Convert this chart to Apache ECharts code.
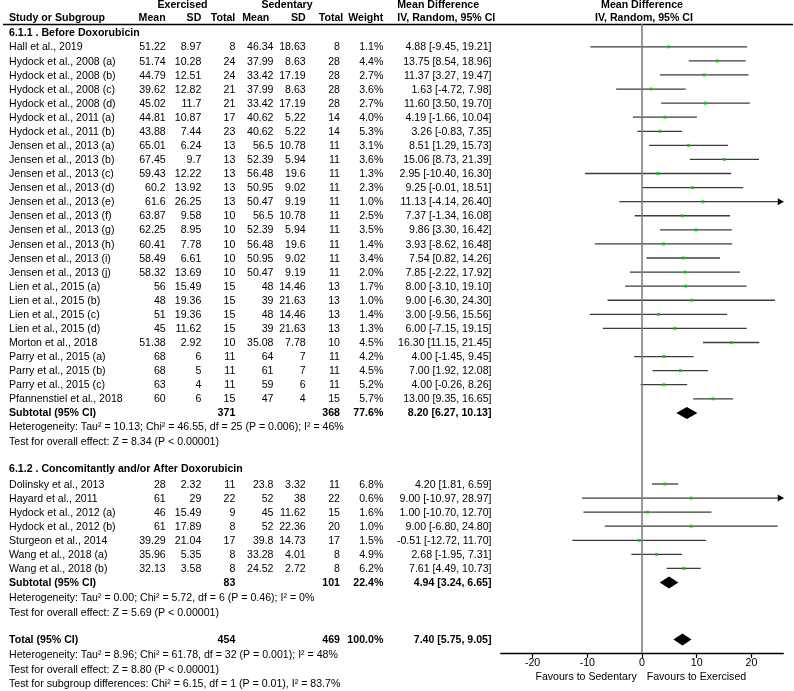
<!DOCTYPE html>
<html><head><meta charset="utf-8">
<script src="https://cdn.jsdelivr.net/npm/echarts@6/dist/echarts.min.js"></script>
<style>html,body{margin:0;padding:0;background:#fff}#c{width:794px;height:691px}</style>
</head><body><div id="c"></div>
<script>
// ---------- DATA ----------
const group1Title = '6.1.1 . Before Doxorubicin';
const studies1 = ['Hall et al., 2019','Hydock et al., 2008 (a)','Hydock et al., 2008 (b)','Hydock et al., 2008 (c)','Hydock et al., 2008 (d)','Hydock et al., 2011 (a)','Hydock et al., 2011 (b)','Jensen et al., 2013 (a)','Jensen et al., 2013 (b)','Jensen et al., 2013 (c)','Jensen et al., 2013 (d)','Jensen et al., 2013 (e)','Jensen et al., 2013 (f)','Jensen et al., 2013 (g)','Jensen et al., 2013 (h)','Jensen et al., 2013 (i)','Jensen et al., 2013 (j)','Lien et al., 2015 (a)','Lien et al., 2015 (b)','Lien et al., 2015 (c)','Lien et al., 2015 (d)','Morton et al., 2018','Parry et al., 2015 (a)','Parry et al., 2015 (b)','Parry et al., 2015 (c)','Pfannenstiel et al., 2018'];
const exMean1 = [51.22,51.74,44.79,39.62,45.02,44.81,43.88,65.01,67.45,59.43,60.2,61.6,63.87,62.25,60.41,58.49,58.32,56,48,51,45,51.38,68,68,63,60];
const exSD1   = [8.97,10.28,12.51,12.82,11.7,10.87,7.44,6.24,9.7,12.22,13.92,26.25,9.58,8.95,7.78,6.61,13.69,15.49,19.36,19.36,11.62,2.92,6,5,4,6];
const exN1    = [8,24,24,21,21,17,23,13,13,13,13,13,10,10,10,10,10,15,15,15,15,10,11,11,11,15];
const sedMean1= [46.34,37.99,33.42,37.99,33.42,40.62,40.62,56.5,52.39,56.48,50.95,50.47,56.5,52.39,56.48,50.95,50.47,48,39,48,39,35.08,64,61,59,47];
const sedSD1  = [18.63,8.63,17.19,8.63,17.19,5.22,5.22,10.78,5.94,19.6,9.02,9.19,10.78,5.94,19.6,9.02,9.19,14.46,21.63,14.46,21.63,7.78,7,7,6,4];
const sedN1   = [8,28,28,28,28,14,14,11,11,11,11,11,11,11,11,11,11,13,13,13,13,10,11,11,11,15];
const weight1 = [1.1,4.4,2.7,3.6,2.7,4.0,5.3,3.1,3.6,1.3,2.3,1.0,2.5,3.5,1.4,3.4,2.0,1.7,1.0,1.4,1.3,4.5,4.2,4.5,5.2,5.7];
const md1     = [4.88,13.75,11.37,1.63,11.60,4.19,3.26,8.51,15.06,2.95,9.25,11.13,7.37,9.86,3.93,7.54,7.85,8.00,9.00,3.00,6.00,16.30,4.00,7.00,4.00,13.00];
const lo1     = [-9.45,8.54,3.27,-4.72,3.50,-1.66,-0.83,1.29,8.73,-10.40,-0.01,-4.14,-1.34,3.30,-8.62,0.82,-2.22,-3.10,-6.30,-9.56,-7.15,11.15,-1.45,1.92,-0.26,9.35];
const hi1     = [19.21,18.96,19.47,7.98,19.70,10.04,7.35,15.73,21.39,16.30,18.51,26.40,16.08,16.42,16.48,14.26,17.92,19.10,24.30,15.56,19.15,21.45,9.45,12.08,8.26,16.65];
const sub1    = {exN:371, sedN:368, weight:77.6, md:8.20, lo:6.27, hi:10.13};
const het1    = ['Heterogeneity: Tau² = 10.13; Chi² = 46.55, df = 25 (P = 0.006); I² = 46%','Test for overall effect: Z = 8.34 (P < 0.00001)'];

const group2Title = '6.1.2 . Concomitantly and/or After Doxorubicin';
const studies2 = ['Dolinsky et al., 2013','Hayard et al., 2011','Hydock et al., 2012 (a)','Hydock et al., 2012 (b)','Sturgeon et al., 2014','Wang et al., 2018 (a)','Wang et al., 2018 (b)'];
const exMean2 = [28,61,46,61,39.29,35.96,32.13];
const exSD2   = [2.32,29,15.49,17.89,21.04,5.35,3.58];
const exN2    = [11,22,9,8,17,8,8];
const sedMean2= [23.8,52,45,52,39.8,33.28,24.52];
const sedSD2  = [3.32,38,11.62,22.36,14.73,4.01,2.72];
const sedN2   = [11,22,15,20,17,8,8];
const weight2 = [6.8,0.6,1.6,1.0,1.5,4.9,6.2];
const md2     = [4.20,9.00,1.00,9.00,-0.51,2.68,7.61];
const lo2     = [1.81,-10.97,-10.70,-6.80,-12.72,-1.95,4.49];
const hi2     = [6.59,28.97,12.70,24.80,11.70,7.31,10.73];
const sub2    = {exN:83, sedN:101, weight:22.4, md:4.94, lo:3.24, hi:6.65};
const het2    = ['Heterogeneity: Tau² = 0.00; Chi² = 5.72, df = 6 (P = 0.46); I² = 0%','Test for overall effect: Z = 5.69 (P < 0.00001)'];

const total   = {exN:454, sedN:469, weight:100.0, md:7.40, lo:5.75, hi:9.05};
const hetTot  = ['Heterogeneity: Tau² = 8.96; Chi² = 61.78, df = 32 (P = 0.001); I² = 48%','Test for overall effect: Z = 8.80 (P < 0.00001)','Test for subgroup differences: Chi² = 6.15, df = 1 (P = 0.01), I² = 83.7%'];

const tickVals = [-20,-10,0,10,20];
const favLeft = 'Favours to Sedentary', favRight = 'Favours to Exercised';

// ---------- LAYOUT ----------
const FONT = '"Liberation Sans", Arial, Helvetica, sans-serif';
const FS = 10.6;
const X_MIN = -25.83, X_MAX = 25.83;
const ROW0 = 46.8, ROWH = 14.08, GTOP = 24, GBOT = 653;
const Y_MIN = (GTOP - ROW0) / ROWH, Y_MAX = (GBOT - ROW0) / ROWH;
const G2_START = 31.05;
const SUB1_ROW = studies1.length, SUB2_ROW = G2_START + studies2.length, TOTAL_ROW = 42.1;

const ciData = [], ptData = [];
studies1.forEach((s,i)=>{ ciData.push([lo1[i],hi1[i],md1[i],i]); ptData.push([md1[i],i]); });
studies2.forEach((s,i)=>{ ciData.push([lo2[i],hi2[i],md2[i],G2_START+i]); ptData.push([md2[i],G2_START+i]); });
const diaData = [
  [sub1.lo, sub1.hi, sub1.md, SUB1_ROW],
  [sub2.lo, sub2.hi, sub2.md, SUB2_ROW],
  [total.lo, total.hi, total.md, TOTAL_ROW]
];

const chart = echarts.init(document.getElementById('c'), null, {renderer:'canvas'});
chart.setOption({
  animation:false,
  backgroundColor:'#fff',
  grid:{left:500.7, right:10.7, top:GTOP, bottom:691-GBOT, containLabel:false},
  xAxis:{type:'value', min:X_MIN, max:X_MAX, splitLine:{show:false},
    axisLine:{show:true, onZero:false, lineStyle:{color:'#000', width:1.3}},
    axisTick:{show:true, customValues:tickVals, length:5, lineStyle:{color:'#000', width:1.2}},
    axisLabel:{show:true, customValues:tickVals, formatter:v=>String(v), color:'#000', fontSize:FS, fontFamily:FONT, margin:5}
  },
  yAxis:{type:'value', inverse:true, min:Y_MIN, max:Y_MAX, show:false},
  series:[
    {type:'custom', clip:false, data:ciData, z:2,
      renderItem:(params, api)=>{
        const lo=api.value(0), hi=api.value(1), r=api.value(3);
        const p1=api.coord([Math.max(lo,X_MIN), r]), p2=api.coord([Math.min(hi,X_MAX), r]);
        const ch=[{type:'line', shape:{x1:p1[0],y1:p1[1],x2:p2[0],y2:p2[1]}, style:{stroke:'#3c3c3c', lineWidth:1.3}}];
        if(hi > X_MAX){
          ch.push({type:'polygon', shape:{points:[[p2[0]+0.5,p2[1]],[p2[0]-5.5,p2[1]-3.5],[p2[0]-5.5,p2[1]+3.5]]}, style:{fill:'#000'}});
        }
        return {type:'group', children:ch};
      }
    },
    {type:'custom', clip:false, data:diaData, z:3,
      renderItem:(params, api)=>{
        const lo=api.value(0), hi=api.value(1), md=api.value(2), r=api.value(3);
        const a=api.coord([lo,r]), b=api.coord([hi,r]), c=api.coord([md,r]);
        const h=6;
        return {type:'polygon', shape:{points:[[a[0],a[1]],[c[0],c[1]-h],[b[0],b[1]],[c[0],c[1]+h]]}, style:{fill:'#000'}};
      }
    },
    {type:'scatter', data:ptData, symbol:'rect', symbolSize:3, itemStyle:{color:'#00cc00'}, z:4,
      markLine:{silent:true, symbol:'none', label:{show:false}, lineStyle:{color:'#7a7a7a', width:1.5, type:'solid'}, data:[{xAxis:0}]}
    }
  ]
});

// ---------- TEXT TABLE ----------
const yPix = r => chart.convertToPixel({yAxisIndex:0}, r);
const colX = [165.7, 201.3, 235.3, 273.5, 305.7, 340, 383.3, 491.5];
const g = [];
function txt(s, x, y, align, bold){
  g.push({type:'text', x:x, y:y, silent:true, style:{text:s, fill:'#000', font:(bold?'bold ':'')+FS+'px '+FONT, align:align||'left', verticalAlign:'middle'}});
}
const fmtCI = (m,l,h)=> m.toFixed(2)+' ['+l.toFixed(2)+', '+h.toFixed(2)+']';
function studyRows(names, em, es, en, sm, ss, sn, w, md, lo, hi, start){
  names.forEach((n,i)=>{
    const y = yPix(start+i)+0.7;
    txt(n, 9, y);
    const vals=[String(em[i]),String(es[i]),String(en[i]),String(sm[i]),String(ss[i]),String(sn[i]),w[i].toFixed(1)+'%',fmtCI(md[i],lo[i],hi[i])];
    vals.forEach((v,k)=>txt(v, colX[k], y, 'right'));
  });
}
function sumRow(label, s, r){
  const y = yPix(r)+0.5;
  txt(label, 9, y, 'left', true);
  txt(String(s.exN), colX[2], y, 'right', true);
  txt(String(s.sedN), colX[5], y, 'right', true);
  txt(s.weight.toFixed(1)+'%', colX[6], y, 'right', true);
  txt(fmtCI(s.md,s.lo,s.hi), colX[7], y, 'right', true);
}
// headers
txt('Exercised', 182.5, 5, 'center', true);
txt('Sedentary', 287, 5, 'center', true);
txt('Mean Difference', 397.3, 5, 'left', true);
txt('Mean Difference', 642, 5, 'center', true);
txt('Study or Subgroup', 9, 18.5, 'left', true);
txt('Mean', 165.7, 18.5, 'right', true);
txt('SD', 201.3, 18.5, 'right', true);
txt('Total', 235.3, 18.5, 'right', true);
txt('Mean', 269.3, 18.5, 'right', true);
txt('SD', 305.7, 18.5, 'right', true);
txt('Total', 343.3, 18.5, 'right', true);
txt('Weight', 383.3, 18.5, 'right', true);
txt('IV, Random, 95% CI', 397.3, 18.5, 'left', true);
txt('IV, Random, 95% CI', 644, 18.5, 'center', true);
g.push({type:'line', silent:true, shape:{x1:3,y1:24.5,x2:793,y2:24.5}, style:{stroke:'#000', lineWidth:1.4}});

txt(group1Title, 9, 32.8, 'left', true);
studyRows(studies1, exMean1, exSD1, exN1, sedMean1, sedSD1, sedN1, weight1, md1, lo1, hi1, 0);
sumRow('Subtotal (95% CI)', sub1, SUB1_ROW);
txt(het1[0], 9, 427.5, 'left');
txt(het1[1], 9, 442, 'left');

txt(group2Title, 9, 469.5, 'left', true);
studyRows(studies2, exMean2, exSD2, exN2, sedMean2, sedSD2, sedN2, weight2, md2, lo2, hi2, G2_START);
sumRow('Subtotal (95% CI)', sub2, SUB2_ROW);
txt(het2[0], 9, 598.5, 'left');
txt(het2[1], 9, 613, 'left');

sumRow('Total (95% CI)', total, TOTAL_ROW);
txt(hetTot[0], 9, 655.5, 'left');
txt(hetTot[1], 9, 670, 'left');
txt(hetTot[2], 9, 684.5, 'left');

txt(favLeft, 636.7, 677, 'right');
txt(favRight, 646.7, 677, 'left');

chart.setOption({graphic:g});
</script>
</body></html>
